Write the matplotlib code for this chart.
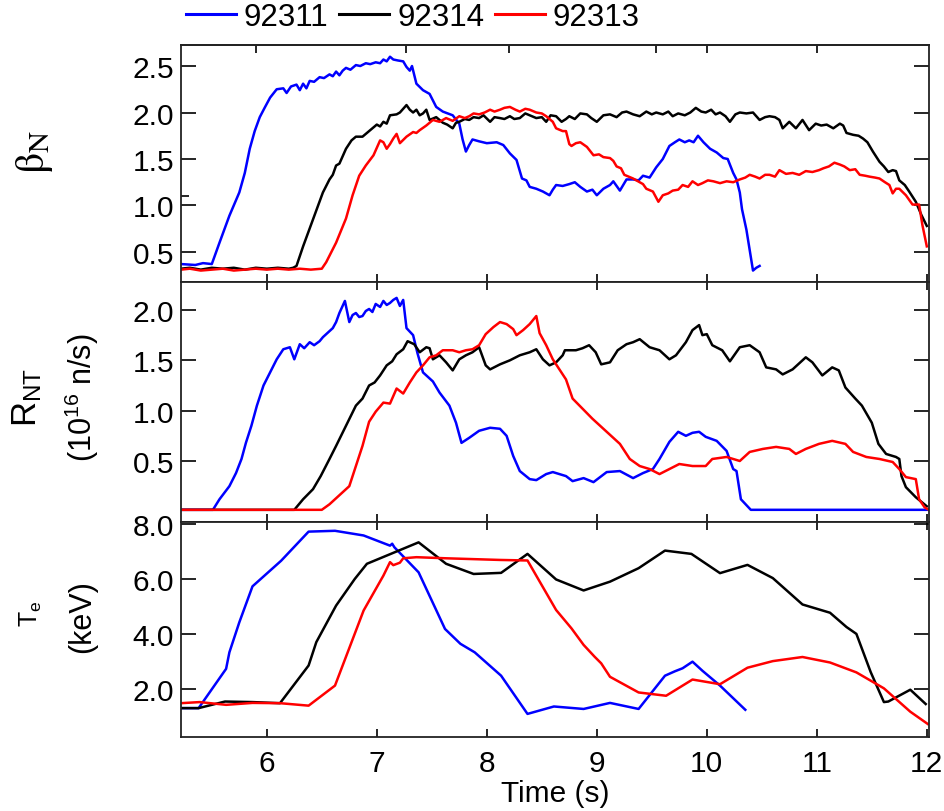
import matplotlib
matplotlib.use('Agg')
import matplotlib.pyplot as plt
from matplotlib.ticker import FormatStrFormatter, FixedLocator

plt.rcParams['font.family'] = ['Liberation Sans', 'DejaVu Sans']
plt.rcParams['mathtext.fontset'] = 'custom'
plt.rcParams['mathtext.rm'] = 'Liberation Sans'
plt.rcParams['mathtext.it'] = 'Liberation Sans:italic'
plt.rcParams['mathtext.bf'] = 'Liberation Sans:bold'

# ---------------- data ----------------
shots = ['92311', '92314', '92313']
colors = ['#0000ff', '#000000', '#ff0000']

# beta_N
t_beta_92311 = [5.22, 5.35, 5.42, 5.50, 5.57, 5.66, 5.75, 5.80, 5.845, 5.89, 5.936, 5.98, 6.03, 6.09, 6.15, 6.18, 6.22, 6.27, 6.30, 6.33, 6.36, 6.39, 6.43, 6.48, 6.52, 6.57, 6.60, 6.63, 6.66, 6.69, 6.72, 6.76, 6.81, 6.85, 6.90, 6.94, 6.99, 7.03, 7.06, 7.09, 7.12, 7.15, 7.19, 7.24, 7.27, 7.30, 7.32, 7.36, 7.42, 7.48, 7.54, 7.60, 7.69, 7.75, 7.78, 7.81, 7.84, 7.87, 7.93, 8.00, 8.09, 8.15, 8.21, 8.27, 8.32, 8.36, 8.39, 8.45, 8.51, 8.57, 8.60, 8.63, 8.69, 8.75, 8.80, 8.85, 8.91, 8.96, 9.00, 9.06, 9.12, 9.15, 9.21, 9.27, 9.33, 9.38, 9.42, 9.48, 9.54, 9.60, 9.66, 9.71, 9.75, 9.80, 9.84, 9.88, 9.92, 9.97, 10.03, 10.09, 10.15, 10.19, 10.24, 10.27, 10.30, 10.32, 10.36, 10.42, 10.45, 10.48]
beta_92311 = [0.37, 0.36, 0.38, 0.37, 0.60, 0.89, 1.14, 1.35, 1.61, 1.80, 1.95, 2.05, 2.16, 2.25, 2.26, 2.21, 2.28, 2.30, 2.24, 2.31, 2.26, 2.34, 2.33, 2.38, 2.37, 2.41, 2.39, 2.44, 2.40, 2.45, 2.48, 2.46, 2.51, 2.50, 2.53, 2.52, 2.54, 2.53, 2.57, 2.55, 2.60, 2.57, 2.56, 2.55, 2.49, 2.45, 2.50, 2.31, 2.24, 2.20, 2.06, 2.01, 1.97, 1.88, 1.71, 1.58, 1.65, 1.71, 1.69, 1.67, 1.68, 1.65, 1.56, 1.49, 1.29, 1.27, 1.20, 1.18, 1.15, 1.11, 1.17, 1.22, 1.21, 1.23, 1.25, 1.20, 1.15, 1.17, 1.11, 1.18, 1.22, 1.26, 1.16, 1.28, 1.28, 1.27, 1.32, 1.30, 1.41, 1.50, 1.64, 1.68, 1.71, 1.68, 1.70, 1.68, 1.75, 1.68, 1.61, 1.57, 1.51, 1.50, 1.35, 1.28, 1.14, 0.96, 0.74, 0.30, 0.33, 0.35]

t_beta_92314 = [5.22, 5.30, 5.40, 5.50, 5.60, 5.70, 5.80, 5.90, 6.00, 6.10, 6.20, 6.24, 6.27, 6.33, 6.42, 6.51, 6.57, 6.60, 6.63, 6.66, 6.72, 6.77, 6.81, 6.87, 6.94, 7.00, 7.03, 7.06, 7.09, 7.12, 7.18, 7.21, 7.24, 7.27, 7.30, 7.33, 7.36, 7.39, 7.42, 7.45, 7.48, 7.54, 7.60, 7.64, 7.69, 7.72, 7.75, 7.80, 7.84, 7.88, 7.93, 7.97, 8.03, 8.07, 8.12, 8.16, 8.21, 8.25, 8.30, 8.35, 8.39, 8.45, 8.50, 8.54, 8.58, 8.63, 8.68, 8.72, 8.75, 8.80, 8.85, 8.91, 8.95, 9.00, 9.06, 9.12, 9.18, 9.23, 9.27, 9.33, 9.39, 9.45, 9.50, 9.54, 9.60, 9.65, 9.69, 9.74, 9.80, 9.85, 9.90, 9.95, 9.99, 10.04, 10.08, 10.12, 10.17, 10.21, 10.26, 10.30, 10.36, 10.42, 10.48, 10.53, 10.57, 10.62, 10.66, 10.69, 10.75, 10.81, 10.87, 10.93, 10.99, 11.04, 11.09, 11.15, 11.21, 11.24, 11.27, 11.33, 11.38, 11.42, 11.46, 11.51, 11.57, 11.61, 11.65, 11.69, 11.72, 11.75, 11.80, 11.84, 11.90, 11.95, 12.00]
beta_92314 = [0.32, 0.33, 0.31, 0.33, 0.32, 0.33, 0.31, 0.33, 0.32, 0.33, 0.32, 0.33, 0.35, 0.56, 0.85, 1.14, 1.28, 1.33, 1.43, 1.45, 1.61, 1.70, 1.74, 1.74, 1.81, 1.87, 1.85, 1.90, 1.88, 1.97, 1.98, 2.00, 2.04, 2.08, 2.03, 2.00, 2.03, 1.97, 1.99, 2.03, 1.92, 1.95, 1.89, 1.87, 1.83, 1.89, 1.90, 1.93, 1.92, 1.95, 1.94, 1.97, 1.90, 1.95, 1.94, 1.93, 1.96, 1.93, 1.94, 1.99, 1.97, 1.94, 1.95, 1.90, 1.97, 1.96, 1.90, 1.93, 1.96, 1.93, 1.99, 1.98, 1.94, 1.90, 1.97, 1.98, 1.95, 2.00, 2.01, 1.98, 1.96, 2.01, 1.98, 2.00, 1.98, 2.01, 1.96, 1.99, 1.97, 2.00, 2.05, 2.01, 2.00, 2.03, 1.98, 2.00, 1.96, 1.90, 1.98, 2.00, 1.99, 2.00, 1.92, 1.95, 1.96, 1.95, 1.92, 1.83, 1.90, 1.83, 1.92, 1.81, 1.88, 1.86, 1.87, 1.83, 1.88, 1.86, 1.78, 1.76, 1.75, 1.72, 1.68, 1.58, 1.47, 1.42, 1.36, 1.38, 1.37, 1.27, 1.22, 1.15, 1.04, 0.90, 0.78]

t_beta_92313 = [5.22, 5.30, 5.40, 5.50, 5.60, 5.70, 5.80, 5.90, 6.00, 6.10, 6.20, 6.30, 6.40, 6.50, 6.54, 6.63, 6.72, 6.78, 6.84, 6.90, 6.97, 7.03, 7.06, 7.09, 7.12, 7.15, 7.18, 7.21, 7.27, 7.33, 7.36, 7.39, 7.45, 7.51, 7.57, 7.63, 7.69, 7.75, 7.80, 7.84, 7.88, 7.93, 7.98, 8.03, 8.07, 8.12, 8.16, 8.21, 8.26, 8.30, 8.35, 8.39, 8.45, 8.50, 8.54, 8.60, 8.63, 8.69, 8.72, 8.75, 8.77, 8.81, 8.85, 8.91, 8.97, 9.02, 9.06, 9.12, 9.15, 9.18, 9.22, 9.25, 9.29, 9.33, 9.39, 9.42, 9.45, 9.51, 9.56, 9.60, 9.65, 9.69, 9.74, 9.78, 9.83, 9.87, 9.92, 9.96, 10.01, 10.06, 10.12, 10.18, 10.24, 10.30, 10.35, 10.39, 10.44, 10.48, 10.53, 10.57, 10.62, 10.66, 10.72, 10.78, 10.84, 10.90, 10.96, 11.02, 11.06, 11.11, 11.16, 11.21, 11.25, 11.30, 11.35, 11.39, 11.44, 11.48, 11.53, 11.57, 11.62, 11.66, 11.69, 11.72, 11.75, 11.81, 11.87, 11.93, 11.96, 12.00]
beta_92313 = [0.31, 0.32, 0.30, 0.31, 0.32, 0.30, 0.31, 0.32, 0.31, 0.32, 0.31, 0.32, 0.31, 0.32, 0.39, 0.60, 0.86, 1.11, 1.32, 1.43, 1.54, 1.70, 1.68, 1.61, 1.66, 1.72, 1.77, 1.67, 1.74, 1.79, 1.78, 1.81, 1.86, 1.92, 1.90, 1.94, 1.91, 1.96, 1.94, 1.96, 1.99, 1.98, 2.00, 2.03, 2.01, 2.03, 2.05, 2.06, 2.03, 2.01, 2.04, 2.03, 2.00, 1.99, 1.96, 1.90, 1.83, 1.80, 1.80, 1.66, 1.64, 1.67, 1.68, 1.63, 1.54, 1.55, 1.52, 1.51, 1.48, 1.42, 1.40, 1.33, 1.31, 1.29, 1.25, 1.23, 1.18, 1.15, 1.04, 1.11, 1.13, 1.16, 1.17, 1.22, 1.20, 1.26, 1.22, 1.24, 1.27, 1.26, 1.24, 1.26, 1.25, 1.28, 1.30, 1.33, 1.31, 1.29, 1.33, 1.33, 1.31, 1.38, 1.34, 1.35, 1.33, 1.37, 1.36, 1.38, 1.40, 1.42, 1.46, 1.44, 1.42, 1.38, 1.39, 1.33, 1.32, 1.31, 1.30, 1.29, 1.25, 1.22, 1.13, 1.18, 1.18, 1.11, 1.01, 1.01, 0.79, 0.56]

# neutron rate R_NT (1e16 n/s)
t_rnt_92311 = [5.22, 5.51, 5.57, 5.66, 5.72, 5.77, 5.81, 5.86, 5.91, 5.97, 6.03, 6.09, 6.15, 6.21, 6.25, 6.30, 6.34, 6.39, 6.43, 6.48, 6.51, 6.54, 6.60, 6.63, 6.66, 6.71, 6.75, 6.78, 6.81, 6.84, 6.87, 6.90, 6.93, 6.96, 6.99, 7.03, 7.06, 7.09, 7.12, 7.15, 7.18, 7.21, 7.24, 7.27, 7.33, 7.37, 7.42, 7.51, 7.57, 7.66, 7.72, 7.77, 7.84, 7.93, 8.03, 8.12, 8.18, 8.24, 8.30, 8.39, 8.45, 8.54, 8.60, 8.66, 8.72, 8.78, 8.88, 8.97, 9.09, 9.21, 9.33, 9.42, 9.51, 9.57, 9.66, 9.74, 9.81, 9.87, 9.93, 9.99, 10.09, 10.18, 10.24, 10.27, 10.31, 10.40, 12.02]
rnt_92311 = [0.015, 0.015, 0.12, 0.25, 0.38, 0.52, 0.68, 0.85, 1.05, 1.25, 1.38, 1.51, 1.61, 1.63, 1.51, 1.66, 1.62, 1.68, 1.65, 1.69, 1.73, 1.76, 1.82, 1.88, 1.97, 2.09, 1.88, 1.95, 1.97, 1.93, 1.94, 1.99, 2.01, 1.98, 2.06, 2.03, 2.09, 2.05, 2.07, 2.10, 2.12, 2.04, 2.10, 1.82, 1.75, 1.57, 1.38, 1.29, 1.18, 1.05, 0.88, 0.68, 0.73, 0.80, 0.83, 0.82, 0.75, 0.55, 0.40, 0.32, 0.31, 0.37, 0.39, 0.37, 0.35, 0.30, 0.33, 0.29, 0.39, 0.40, 0.33, 0.38, 0.42, 0.52, 0.69, 0.79, 0.75, 0.78, 0.79, 0.74, 0.70, 0.60, 0.42, 0.40, 0.12, 0.015, 0.015]

t_rnt_92314 = [5.22, 6.25, 6.33, 6.42, 6.49, 6.57, 6.63, 6.72, 6.81, 6.87, 6.93, 6.98, 7.03, 7.09, 7.14, 7.18, 7.24, 7.28, 7.34, 7.39, 7.45, 7.48, 7.51, 7.57, 7.63, 7.69, 7.75, 7.81, 7.87, 7.93, 7.99, 8.03, 8.12, 8.21, 8.30, 8.39, 8.45, 8.51, 8.57, 8.63, 8.69, 8.71, 8.81, 8.87, 8.93, 8.99, 9.04, 9.12, 9.19, 9.27, 9.33, 9.39, 9.48, 9.57, 9.66, 9.72, 9.81, 9.87, 9.93, 9.96, 10.00, 10.05, 10.14, 10.21, 10.30, 10.39, 10.48, 10.54, 10.63, 10.69, 10.78, 10.90, 10.96, 11.05, 11.14, 11.20, 11.26, 11.35, 11.41, 11.50, 11.56, 11.63, 11.72, 11.75, 11.77, 11.81, 11.90, 12.00]
rnt_92314 = [0.015, 0.015, 0.12, 0.22, 0.35, 0.52, 0.65, 0.85, 1.05, 1.12, 1.25, 1.28, 1.35, 1.45, 1.49, 1.56, 1.61, 1.69, 1.66, 1.58, 1.63, 1.62, 1.51, 1.55, 1.48, 1.40, 1.51, 1.55, 1.58, 1.63, 1.45, 1.41, 1.46, 1.50, 1.55, 1.58, 1.61, 1.51, 1.45, 1.48, 1.55, 1.60, 1.60, 1.62, 1.65, 1.58, 1.46, 1.48, 1.60, 1.66, 1.68, 1.71, 1.63, 1.60, 1.51, 1.55, 1.68, 1.80, 1.85, 1.75, 1.76, 1.65, 1.60, 1.49, 1.63, 1.65, 1.58, 1.43, 1.41, 1.36, 1.41, 1.53, 1.48, 1.35, 1.43, 1.40, 1.23, 1.12, 1.05, 0.88, 0.67, 0.57, 0.54, 0.52, 0.35, 0.24, 0.14, 0.05]

t_rnt_92313 = [5.22, 6.50, 6.57, 6.66, 6.75, 6.81, 6.87, 6.93, 6.99, 7.06, 7.12, 7.18, 7.24, 7.30, 7.36, 7.42, 7.48, 7.54, 7.60, 7.69, 7.75, 7.81, 7.87, 7.93, 7.99, 8.06, 8.12, 8.18, 8.24, 8.27, 8.33, 8.39, 8.45, 8.48, 8.54, 8.60, 8.66, 8.72, 8.78, 8.87, 8.96, 9.09, 9.21, 9.30, 9.39, 9.48, 9.57, 9.66, 9.75, 9.87, 9.99, 10.05, 10.18, 10.30, 10.39, 10.51, 10.63, 10.75, 10.81, 10.90, 11.02, 11.14, 11.26, 11.33, 11.45, 11.57, 11.69, 11.75, 11.81, 11.90, 11.93, 11.98, 12.01]
rnt_92313 = [0.015, 0.015, 0.07, 0.16, 0.25, 0.45, 0.65, 0.89, 0.99, 1.08, 1.07, 1.22, 1.17, 1.28, 1.38, 1.45, 1.53, 1.55, 1.60, 1.60, 1.58, 1.60, 1.61, 1.65, 1.76, 1.83, 1.88, 1.86, 1.81, 1.75, 1.80, 1.86, 1.94, 1.77, 1.65, 1.51, 1.41, 1.31, 1.12, 1.02, 0.92, 0.79, 0.67, 0.52, 0.45, 0.42, 0.37, 0.42, 0.47, 0.45, 0.45, 0.52, 0.54, 0.50, 0.59, 0.62, 0.64, 0.62, 0.57, 0.62, 0.67, 0.70, 0.67, 0.59, 0.54, 0.52, 0.49, 0.42, 0.34, 0.32, 0.12, 0.04, 0.02]

# electron temperature Te (keV)
t_te_92311 = [5.22, 5.38, 5.63, 5.66, 5.75, 5.87, 6.13, 6.38, 6.62, 6.88, 7.12, 7.14, 7.16, 7.38, 7.62, 7.76, 7.89, 8.13, 8.37, 8.61, 8.88, 9.12, 9.38, 9.62, 9.71, 9.78, 9.87, 9.96, 10.12, 10.35]
te_92311 = [1.30, 1.30, 2.73, 3.33, 4.42, 5.73, 6.66, 7.72, 7.75, 7.58, 7.21, 7.28, 7.15, 6.24, 4.18, 3.64, 3.33, 2.48, 1.09, 1.36, 1.27, 1.49, 1.27, 2.48, 2.64, 2.75, 2.99, 2.66, 2.12, 1.24]

t_te_92314 = [5.22, 5.38, 5.62, 5.87, 6.12, 6.38, 6.45, 6.63, 6.80, 6.91, 7.38, 7.63, 7.88, 8.13, 8.37, 8.63, 8.88, 9.12, 9.38, 9.62, 9.86, 10.12, 10.37, 10.60, 10.87, 11.12, 11.27, 11.36, 11.49, 11.61, 11.65, 11.85, 11.99]
te_92314 = [1.30, 1.30, 1.54, 1.52, 1.48, 2.85, 3.70, 5.03, 6.00, 6.55, 7.33, 6.55, 6.18, 6.22, 6.91, 5.98, 5.58, 5.90, 6.39, 7.03, 6.91, 6.21, 6.51, 6.03, 5.07, 4.77, 4.25, 4.00, 2.61, 1.52, 1.54, 1.97, 1.45]

t_te_92313 = [5.22, 5.39, 5.63, 5.87, 6.12, 6.38, 6.62, 6.88, 7.06, 7.12, 7.15, 7.21, 7.24, 7.36, 7.63, 8.12, 8.37, 8.63, 8.77, 8.88, 8.98, 9.04, 9.12, 9.38, 9.63, 9.87, 10.12, 10.37, 10.60, 10.87, 11.12, 11.36, 11.61, 11.85, 12.01]
te_92313 = [1.48, 1.52, 1.42, 1.49, 1.48, 1.39, 2.12, 4.85, 6.12, 6.61, 6.50, 6.59, 6.75, 6.79, 6.75, 6.69, 6.67, 4.87, 4.20, 3.60, 3.17, 2.93, 2.44, 1.87, 1.75, 2.34, 2.17, 2.77, 3.01, 3.16, 2.96, 2.60, 2.02, 1.17, 0.72]

beta_ticks = [0.5, 1.0, 1.5, 2.0, 2.5]
rnt_ticks = [0.5, 1.0, 1.5, 2.0]
te_ticks = [2.0, 4.0, 6.0, 8.0]
time_ticks = [6, 7, 8, 9, 10, 11, 12]
top_extra_ticks = [5.9, 7.27, 8.2, 9.54, 10.0, 11.0]

# ---------------- figure ----------------
W, H = 945, 812
fig = plt.figure(figsize=(W / 100, H / 100), dpi=100)


def axes_px(x0, y0, x1, y1):
    return fig.add_axes([x0 / W, 1 - y1 / H, (x1 - x0) / W, (y1 - y0) / H])


ax1 = axes_px(181, 46, 929, 283)
ax2 = axes_px(181, 283, 929, 523)
ax3 = axes_px(181, 523, 929, 738)

LW = 1.8
lines = []
for t, v, c in [(t_beta_92311, beta_92311, colors[0]),
                (t_beta_92314, beta_92314, colors[1]),
                (t_beta_92313, beta_92313, colors[2])]:
    ln, = ax1.plot(t, v, color=c, lw=LW)
    lines.append(ln)
for t, v, c in [(t_rnt_92311, rnt_92311, colors[0]),
                (t_rnt_92314, rnt_92314, colors[1]),
                (t_rnt_92313, rnt_92313, colors[2])]:
    ax2.plot(t, v, color=c, lw=LW)
for t, v, c in [(t_te_92311, te_92311, colors[0]),
                (t_te_92314, te_92314, colors[1]),
                (t_te_92313, te_92313, colors[2])]:
    ax3.plot(t, v, color=c, lw=LW)

ax1.set_ylim(0.177, 2.726)
ax2.set_ylim(-0.106, 2.278)
ax3.set_ylim(0.25, 8.07)
ax1.set_yticks(beta_ticks)
ax2.set_yticks(rnt_ticks)
ax3.set_yticks(te_ticks)

TICKFS = 21.5
for ax in (ax1, ax2, ax3):
    ax.set_xlim(5.22, 12.02)
    ax.set_xticks(time_ticks)
    ax.yaxis.set_major_formatter(FormatStrFormatter('%.1f'))
    ax.tick_params(axis='y', which='major', direction='in', length=11, width=1.2,
                   left=True, right=True, labelsize=TICKFS, pad=5)
    ax.tick_params(axis='x', which='major', direction='in', length=6, width=1.2,
                   top=True, bottom=True, labelsize=TICKFS, pad=9)
    for s in ax.spines.values():
        s.set_linewidth(1.3)
        s.set_color('#222222')

ax1.tick_params(axis='x', labelbottom=False, top=False)
ax2.tick_params(axis='x', labelbottom=False)

# irregular ticks on top of the first panel
sec = ax1.secondary_xaxis('top')
sec.set_xticks(top_extra_ticks)
sec.set_xticklabels([])
sec.tick_params(direction='in', length=6, width=1.2)
sec.spines['top'].set_linewidth(1.3)
sec.spines['top'].set_color('#222222')

# small extra tick on the left of the first panel
ax1.yaxis.set_minor_locator(FixedLocator([1.1]))
ax1.tick_params(axis='y', which='minor', direction='in', length=6, width=1.2,
                left=True, right=False)

ax3.set_xlabel('Time (s)', fontsize=TICKFS, labelpad=1)

# y labels
fig.text(35 / W, 1 - 152 / H, r'$\mathrm{\beta_N}$', rotation=90, fontsize=30,
         ha='center', va='center', math_fontfamily='stix')
fig.text(27 / W, 1 - 397 / H, r'R$_{\rm NT}$', rotation=90, fontsize=25,
         ha='center', va='center')
fig.text(82 / W, 1 - 398 / H, r'(10$^{16}$ n/s)', rotation=90, fontsize=22,
         ha='center', va='center')
fig.text(31 / W, 1 - 614 / H, r'T$_{\rm e}$', rotation=90, fontsize=18,
         ha='center', va='center')
fig.text(82 / W, 1 - 617 / H, '(keV)', rotation=90, fontsize=22,
         ha='center', va='center')

leg = fig.legend(lines, shots, loc='center left', bbox_to_anchor=(186 / W, 1 - 18 / H),
                 ncol=3, frameon=False, fontsize=22.5, handlelength=1.6,
                 handletextpad=0.25, columnspacing=0.35, borderpad=0, borderaxespad=0)
for h in leg.legend_handles:
    h.set_linewidth(2.2)

fig.savefig('out.png', dpi=100)
